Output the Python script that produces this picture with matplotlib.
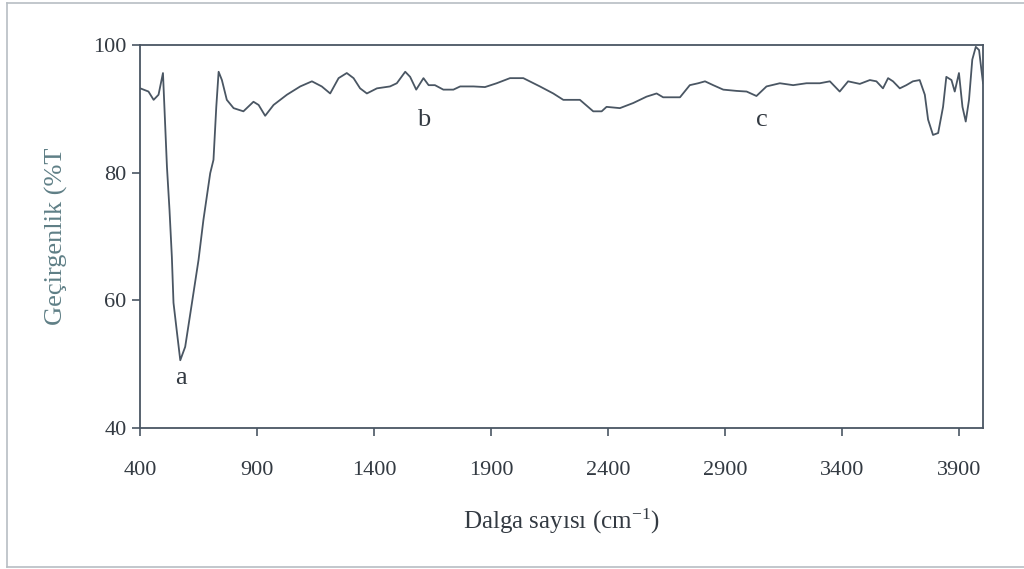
import matplotlib
matplotlib.use("Agg")
import matplotlib.pyplot as plt
from matplotlib.lines import Line2D

plt.rcParams["mathtext.fontset"] = "custom"
plt.rcParams["mathtext.rm"] = "Liberation Serif"
plt.rcParams["mathtext.it"] = "Liberation Serif:italic"

wavenumber = [400, 435, 457, 478, 497, 514, 525, 535, 542, 557, 571, 592, 621, 649, 670, 699, 713,
              725, 735, 749, 770, 799, 841, 884, 906, 934, 970, 1027, 1084, 1134, 1176, 1212, 1248,
              1283, 1312, 1340, 1369, 1412, 1468, 1497, 1533, 1554, 1580, 1611, 1633, 1660, 1696,
              1739, 1768, 1825, 1874, 1924, 1981, 2038, 2109, 2166, 2209, 2280, 2337, 2373, 2394,
              2451, 2508, 2565, 2608, 2636, 2708, 2750, 2786, 2815, 2850, 2893, 2950, 2993, 3035,
              3078, 3135, 3192, 3249, 3306, 3349, 3391, 3427, 3477, 3520, 3548, 3576, 3598, 3619,
              3648, 3676, 3704, 3733, 3755, 3769, 3790, 3812, 3833, 3847, 3869, 3883, 3901, 3916,
              3930, 3944, 3958, 3973, 3987, 3997, 4004]
transmittance = [93.2, 92.7, 91.4, 92.2, 95.6, 80.9, 74.1, 66.8, 59.6, 54.9, 50.6, 52.7, 59.6, 66.3,
                 72.6, 79.9, 82.0, 90.3, 95.8, 94.5, 91.4, 90.1, 89.6, 91.1, 90.6, 88.9, 90.6, 92.2,
                 93.5, 94.3, 93.5, 92.4, 94.8, 95.6, 94.8, 93.2, 92.4, 93.2, 93.5, 94.0, 95.8, 95.0,
                 93.0, 94.8, 93.7, 93.7, 93.0, 93.0, 93.5, 93.5, 93.4, 94.0, 94.8, 94.8, 93.5, 92.4,
                 91.4, 91.4, 89.6, 89.6, 90.3, 90.1, 90.9, 91.9, 92.4, 91.8, 91.8, 93.7, 94.0, 94.3,
                 93.7, 93.0, 92.8, 92.7, 92.0, 93.5, 94.0, 93.7, 94.0, 94.0, 94.3, 92.7, 94.3, 93.9,
                 94.5, 94.3, 93.2, 94.8, 94.3, 93.2, 93.7, 94.3, 94.5, 92.2, 88.3, 85.9, 86.2, 90.3,
                 95.0, 94.5, 92.7, 95.6, 90.3, 88.0, 91.4, 97.7, 99.7, 99.2, 96.1, 94.0]

peak_labels = ["a", "b", "c"]
peak_x = [575, 1613, 3058]
peak_y = [47.8, 88.3, 88.3]

x_ticks = [400, 900, 1400, 1900, 2400, 2900, 3400, 3900]
y_ticks = [40, 60, 80, 100]

serif = ["Liberation Serif", "DejaVu Serif"]
text_col = "#333a42"
line_col = "#4a5663"

fig = plt.figure(figsize=(10.24, 5.69), dpi=100)
# outer frame (left, top, bottom; right edge lies outside the picture)
frame_col = "#b8bec4"
fig.lines.extend([
    Line2D([0.007, 0.007], [0.003, 0.995], transform=fig.transFigure, color=frame_col, linewidth=1.2),
    Line2D([0.007, 1.0], [0.995, 0.995], transform=fig.transFigure, color=frame_col, linewidth=1.2),
    Line2D([0.007, 1.0], [0.003, 0.003], transform=fig.transFigure, color=frame_col, linewidth=1.2),
])
ax = fig.add_axes([0.137, 0.248, 0.823, 0.673])
ax.plot(wavenumber, transmittance, color=line_col, linewidth=1.3)
ax.set_xlim(400, 4004)
ax.set_ylim(40, 100)
ax.set_xticks(x_ticks)
ax.set_yticks(y_ticks)
for s in ax.spines.values():
    s.set_color("#4a5663")
    s.set_linewidth(1.3)
ax.tick_params(direction="out", length=6, width=1.2, color="#4a5663", labelcolor=text_col, labelsize=16)
for lab in ax.get_xticklabels() + ax.get_yticklabels():
    lab.set_family(serif)
ax.tick_params(axis="x", pad=18)
ax.tick_params(axis="y", pad=4)

for t, xv, yv in zip(peak_labels, peak_x, peak_y):
    ax.text(xv, yv, t, ha="center", va="center", fontsize=19, family=serif, color=text_col)

ax.set_xlabel("Dalga sayısı (cm$^{\\mathrm{-1}}$)", family=serif, fontsize=18, color=text_col, labelpad=19)
ax.set_ylabel("Geçirgenlik (%T", family=serif, fontsize=19, color="#5f7f86", labelpad=18)

fig.savefig("out.png", dpi=100)
